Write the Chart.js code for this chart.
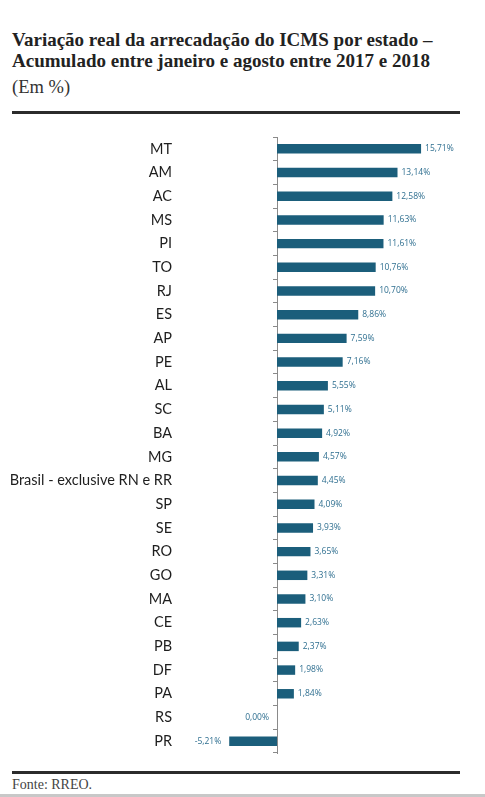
<!DOCTYPE html>
<html>
<head>
<meta charset="utf-8">
<script src="https://cdn.jsdelivr.net/npm/chart.js@4"></script>
<style>
  body { margin: 0; background: #fff; width: 485px; height: 797px; position: relative; overflow: hidden; }
  .title { position: absolute; left: 12px; top: 29px; font-family: "Liberation Serif", serif; font-weight: bold; font-size: 19px; line-height: 21px; color: #222; }
  .sub { position: absolute; left: 12px; top: 77px; font-family: "Liberation Serif", serif; font-size: 18.5px; color: #333; }
  .rule { position: absolute; left: 12px; width: 448px; background: #2b2b2b; }
  .src { position: absolute; left: 12px; top: 777px; font-family: "Liberation Serif", serif; font-size: 14px; color: #444; }
  .edge { position: absolute; left: 0; top: 794px; width: 485px; height: 3px; background: #c8c8c8; }
  #wrap { position: absolute; left: 0; top: 127px; width: 485px; height: 636px; }
</style>
</head>
<body>
<div class="title">Variação real da arrecadação do ICMS por estado –<br>Acumulado entre janeiro e agosto entre 2017 e 2018</div>
<div class="sub">(Em %)</div>
<div class="rule" style="top:111px;height:3px"></div>
<div id="wrap"><canvas id="chart"></canvas></div>
<div class="rule" style="top:771px;height:2.5px"></div>
<div class="src">Fonte: RREO.</div>
<div class="edge"></div>
<script>
const states = ['MT', 'AM', 'AC', 'MS', 'PI', 'TO', 'RJ', 'ES', 'AP', 'PE', 'AL', 'SC', 'BA', 'MG',
  'Brasil - exclusive RN e RR', 'SP', 'SE', 'RO', 'GO', 'MA', 'CE', 'PB', 'DF', 'PA', 'RS', 'PR'];
const variation = [15.71, 13.14, 12.58, 11.63, 11.61, 10.76, 10.70, 8.86, 7.59, 7.16, 5.55, 5.11, 4.92, 4.57,
  4.45, 4.09, 3.93, 3.65, 3.31, 3.10, 2.63, 2.37, 1.98, 1.84, 0.00, -5.21];

const barColor = '#1b5e7b';
const labelColor = '#2f6f90';

function fmt(v) {
  return v.toFixed(2).replace('.', ',') + '%';
}

// value labels next to the bar ends
const valueLabels = {
  id: 'valueLabels',
  afterDatasetsDraw(chart) {
    const ctx = chart.ctx;
    const meta = chart.getDatasetMeta(0);
    ctx.save();
    ctx.font = '8.5px "Open Sans"';
    ctx.fillStyle = labelColor;
    ctx.textBaseline = 'middle';
    meta.data.forEach((bar, i) => {
      const v = variation[i];
      if (v > 0) {
        ctx.textAlign = 'left';
        ctx.fillText(fmt(v), bar.x + 4, bar.y);
      } else {
        ctx.textAlign = 'right';
        ctx.fillText(fmt(v), bar.x - 8, bar.y);
      }
    });
    ctx.restore();
  }
};

new Chart(document.getElementById('chart'), {
  type: 'bar',
  data: {
    labels: states,
    datasets: [{
      data: variation,
      backgroundColor: barColor,
      barPercentage: 0.4,
      categoryPercentage: 1,
      clip: false
    }]
  },
  options: {
    indexAxis: 'y',
    responsive: true,
    maintainAspectRatio: false,
    animation: false,
    layout: { padding: { top: 10, bottom: 10, left: 0, right: 0 } },
    plugins: {
      legend: { display: false },
      tooltip: { enabled: false }
    },
    scales: {
      x: {
        display: false,
        min: 0,
        max: 22.68
      },
      y: {
        position: 'left',
        afterFit(scale) {
          // fixed axis width, and no extra vertical padding from the big tick padding
          scale.width = 277;
          scale.paddingTop = 0;
          scale.paddingBottom = 0;
        },
        grid: {
          drawOnChartArea: false,
          drawTicks: true,
          tickLength: 4,
          offset: true,
          color: '#8a8a8a'
        },
        border: { display: true, color: '#8a8a8a', width: 1 },
        ticks: {
          padding: 101,
          color: '#1e1e1e',
          font: { family: 'Lato', size: 14.5 }
        }
      }
    }
  },
  plugins: [valueLabels]
});
</script>
</body>
</html>
